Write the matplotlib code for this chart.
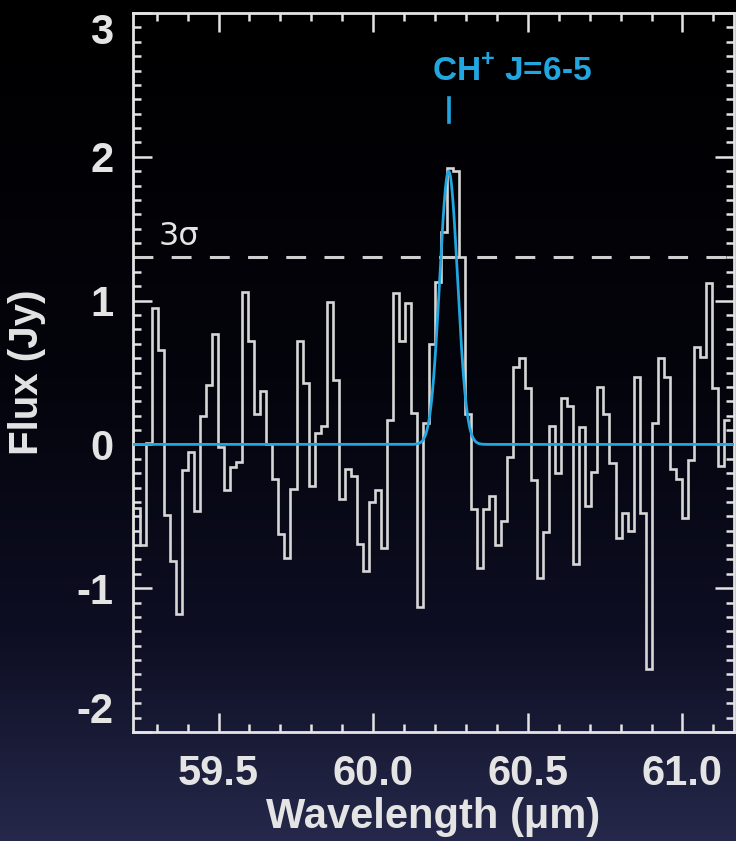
import numpy as np
import matplotlib
matplotlib.use("Agg")
import matplotlib.pyplot as plt
from matplotlib.colors import LinearSegmentedColormap
from matplotlib.ticker import MultipleLocator

# spectrum: uniform bins, flux in Jy
lam_start = 59.2267
lam_step = 0.01946
flux = [
    -0.44, -0.70, 0.01, 0.95, 0.66, -0.49, -0.81, -1.18, -0.18, -0.05,
    -0.46, 0.20, 0.41, 0.77, -0.02, -0.32, -0.16, -0.12, 1.06, 0.72,
    0.21, 0.37, 0.00, -0.24, -0.62, -0.79, -0.31, 0.72, 0.43, -0.29,
    0.08, 0.13, 0.99, 0.45, -0.38, -0.17, -0.22, -0.69, -0.88, -0.40,
    -0.32, -0.72, 0.17, 1.05, 0.72, 0.98, 0.22, -1.13, 0.15, 0.70,
    1.13, 1.48, 1.92, 1.90, 1.30, 0.21, -0.45, -0.86, -0.45, -0.36,
    -0.70, -0.53, -0.09, 0.54, 0.60, 0.39, -0.25, -0.93, -0.61, 0.13,
    -0.20, 0.32, 0.27, -0.83, 0.12, -0.43, -0.19, 0.40, 0.21, -0.13,
    -0.65, -0.48, -0.60, 0.47, -0.48, -1.56, 0.15, 0.60, 0.47, -0.17,
    -0.24, -0.51, -0.11, 0.68, 0.61, 1.12, 0.39, -0.15, 0.17,
]

# gaussian fit of the line
line_center = 60.244
line_peak = 1.90
line_fwhm = 0.068
sigma3 = 1.30

xticks = [59.5, 60.0, 60.5, 61.0]
xtick_labels = ["59.5", "60.0", "60.5", "61.0"]
yticks = [-2, -1, 0, 1, 2, 3]
ytick_labels = ["-2", "-1", "0", "1", "2", "3"]

CYAN = "#22a6df"
FG = "#e4e4e4"

plt.rcParams['font.family'] = ['Liberation Sans', 'DejaVu Sans']

fig = plt.figure(figsize=(7.36, 8.41), dpi=100)

# dark gradient background
bg = fig.add_axes([0, 0, 1, 1], zorder=0)
cmap = LinearSegmentedColormap.from_list(
    "bg", [(0.0, "#000000"), (0.45, "#04040c"), (0.75, "#0d0e22"), (1.0, "#25284a")])
grad = np.linspace(0, 1, 256).reshape(-1, 1)
bg.imshow(grad, aspect="auto", cmap=cmap, extent=[0, 1, 0, 1])
bg.axis("off")

ax = fig.add_axes([0.1807, 0.1296, 0.8166, 0.8549], zorder=1)
ax.set_facecolor("none")

edges = lam_start + lam_step * np.arange(len(flux) + 1)
ax.stairs(flux, edges, baseline=None, color="#d6d6d6", lw=1.9, zorder=3)

lam = np.linspace(59.2, 61.2, 2000)
sig = line_fwhm / 2.3548
ax.plot(lam, line_peak * np.exp(-0.5 * ((lam - line_center) / sig) ** 2),
        color=CYAN, lw=2.0, zorder=4)

ax.axhline(sigma3, color="#cfcfcf", lw=2.2, ls=(0, (6.5, 6)), zorder=2)
ax.text(59.305, sigma3 + 0.04, "3σ", color=FG, fontsize=23, ha="left",
        va="bottom", family=["DejaVu Sans"])

ax.plot([line_center, line_center], [2.24, 2.41], color=CYAN, lw=2.6)
ax.text(60.19, 2.59, "CH$^{\\mathregular{+}}$ J=6-5", color=CYAN, fontsize=24,
        fontweight="bold", ha="left", va="center")

ax.set_xlim(59.2235, 61.1666)
ax.set_ylim(-2, 3)

ax.set_xticks(xticks)
ax.set_xticklabels(xtick_labels)
ax.set_yticks(yticks)
ax.set_yticklabels(ytick_labels)
ax.xaxis.set_minor_locator(MultipleLocator(0.1))
ax.yaxis.set_minor_locator(MultipleLocator(0.1))

ax.tick_params(which="both", direction="in", top=True, right=True,
               color=FG, labelcolor=FG, width=1.8)
ax.tick_params(which="major", length=14)
ax.tick_params(which="minor", length=6)
ax.tick_params(axis="x", labelsize=30, pad=16)
ax.tick_params(axis="y", labelsize=30, pad=14)
for lab in ax.get_xticklabels() + ax.get_yticklabels():
    lab.set_fontweight("bold")

# end labels sit inside the frame like the original
ylabs = ax.get_yticklabels()
ylabs[-1].set_va("top")
ylabs[0].set_va("bottom")

for s in ax.spines.values():
    s.set_color(FG)
    s.set_linewidth(2.0)

ax.set_xlabel("Wavelength (μm)", color=FG, fontsize=30, fontweight="bold",
              labelpad=2)
ax.set_ylabel("Flux (Jy)", color=FG, fontsize=29, fontweight="bold",
              labelpad=22)

fig.savefig("out.png", dpi=100, facecolor="black")
